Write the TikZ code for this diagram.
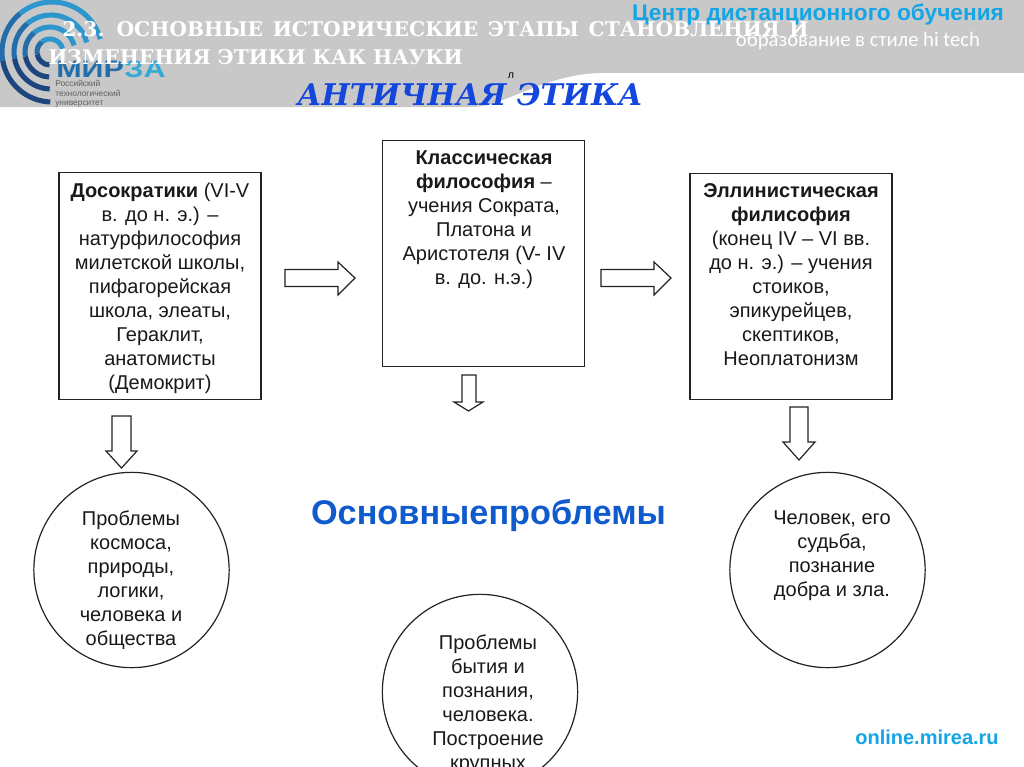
\documentclass[tikz,border=0pt]{standalone}
\usepackage{fontspec}
\setmainfont{Liberation Sans}
\newfontfamily\serifb{DejaVu Serif}
\newfontfamily\thinf{Carlito}
\definecolor{band}{RGB}{200,200,200}
\definecolor{logoa}{RGB}{45,150,205}
\definecolor{logom}{RGB}{35,110,170}
\definecolor{logob}{RGB}{28,70,125}
\definecolor{logoc}{RGB}{50,170,215}
\definecolor{logotxt}{RGB}{95,95,95}
\definecolor{headb}{RGB}{18,70,220}
\definecolor{subb}{RGB}{15,90,205}
\definecolor{cyanb}{RGB}{20,165,230}
\definecolor{linec}{RGB}{35,35,35}
\tikzset{
  x=0.75pt,y=-0.75pt,
  boxn/.style={draw=linec,line width=0.9pt,fill=white,inner sep=0pt,minimum width=151.5pt},
  circn/.style={draw=linec,line width=0.9pt,circle,inner sep=0pt,minimum size=146.5pt},
  bodyt/.style={font=\fontsize{15pt}{18pt}\selectfont,align=center,text=black!90,inner sep=0pt},
  arrowr/.style={draw=linec,line width=0.9pt,fill=white,line join=miter},
  titlet/.style={font=\serifb\bfseries\fontsize{15.2pt}{18pt}\selectfont,text=white,anchor=west,inner sep=0pt},
  logoarc/.style={line width=3.8pt,line cap=butt}
}
\newcommand{\ringp}[2]{%
  \draw[logoa,logoarc] (#1,52) ++(-15:#2) arc (-15:-130:#2);
  \draw[logom,logoarc] (#1,52) ++(-130:#2) arc (-130:-190:#2);
  \draw[logob,logoarc] (#1,52) ++(-190:#2) arc (-190:-268:#2);
}
\newcommand{\wsp}{ \hspace{1.9pt}}
\begin{document}
\begin{tikzpicture}
\useasboundingbox (0,0) rectangle (1024,767);
\fill[white] (0,0) rectangle (1024,767);
\fill[band] (0,0) -- (1024,0) -- (1024,73) -- (600,73) .. controls (560,74) and (530,90) .. (500,101) .. controls (490,105) and (480,107) .. (470,107) -- (0,107) -- cycle;
% logo
\begin{scope}
\clip (0,0) rectangle (120,107);
\ringp{52}{50}
\ringp{51}{37}
\ringp{50}{25}
\ringp{50}{13}
\end{scope}
\node[anchor=west,inner sep=0pt,text=logom,font=\bfseries\fontsize{18pt}{20pt}\selectfont] (mi) at (56,69) {\scalebox{1.27}[1]{МИР}};
\node[anchor=west,inner sep=0pt,text=logoc,font=\bfseries\fontsize{18pt}{20pt}\selectfont] (ea) at (mi.east) {\scalebox{1.27}[1]{ЗА}};
\node[anchor=north west,inner sep=0pt,text=logotxt,align=left,font=\fontsize{6.3pt}{7.3pt}\selectfont] (logot) at (55,80) {Российский\\технологический\\университет};
% header text
\node[titlet] (t1) at (62,29) {2.3.\wsp ОСНОВНЫЕ\wsp ИСТОРИЧЕСКИЕ\wsp ЭТАПЫ\wsp СТАНОВЛЕНИЯ\wsp И};
\node[titlet] (t2) at (48,57) {ИЗМЕНЕНИЯ ЭТИКИ КАК НАУКИ};
\node[anchor=center,inner sep=0pt,text=cyanb,font=\bfseries\fontsize{17pt}{18pt}\selectfont] (c1) at (818,15) {Центр дистанционного обучения};
\node[anchor=center,inner sep=0pt,text=white,font=\thinf\fontsize{15.5pt}{16pt}\selectfont] (c2) at (858,41) {образование в стиле hi tech};
\node[inner sep=0pt,font=\serifb\bfseries\itshape\fontsize{22.4pt}{24pt}\selectfont,text=headb] (h) at (470,95) {АНТИЧНАЯ ЭТИКА};
\node[inner sep=0pt,text=black,font=\fontsize{8pt}{9pt}\selectfont] (l) at (511,76) {л};
% boxes
\node[boxn,minimum height=170.5pt] (boxa) at (160,286) {};
\node[boxn,minimum height=170pt] (boxb) at (483.5,253.5) {};
\node[boxn,minimum height=170pt] (boxc) at (791,286.5) {};
\node[bodyt] (a) at (160,288) {\textbf{Досократики} (VI-V\\в. до н. э.) –\\натурфилософия\\милетской школы,\\пифагорейская\\школа, элеаты,\\Гераклит,\\анатомисты\\(Демокрит)};
\node[bodyt] (b) at (484,220) {\textbf{Классическая}\\\textbf{философия} –\\учения Сократа,\\Платона и\\Аристотеля (V- IV\\в. до. н.э.)};
\node[bodyt] (c) at (791,275) {\textbf{Эллинистическая}\\\textbf{филисофия}\\(конец IV – VI вв.\\до н. э.) – учения\\стоиков,\\эпикурейцев,\\скептиков,\\Неоплатонизм};
% horizontal arrows
\draw[arrowr] (285,269.5) -- (338,269.5) -- (338,262) -- (355,278) -- (338,295) -- (338,286.5) -- (285,286.5) -- cycle;
\draw[arrowr] (601,269.5) -- (654,269.5) -- (654,262) -- (671,278) -- (654,295) -- (654,286.5) -- (601,286.5) -- cycle;
% vertical arrows
\draw[arrowr] (112,416) -- (131,416) -- (131,451) -- (137,451) -- (121.5,468) -- (106,451) -- (112,451) -- cycle;
\draw[arrowr] (462,375) -- (476,375) -- (476,402) -- (483,402) -- (468.5,411) -- (454,402) -- (462,402) -- cycle;
\draw[arrowr] (790,407) -- (808,407) -- (808,442) -- (815,442) -- (799,460) -- (783,442) -- (790,442) -- cycle;
% centre label
\node[inner sep=0pt,text=subb,font=\bfseries\fontsize{25.7pt}{26pt}\selectfont] (m) at (488.5,515) {Основныепроблемы};
% circles
\begin{scope}
\clip (0,0) rectangle (1024,767);
\node[circn] (ca) at (131.5,570) {};
\node[circn] (cb) at (480,692) {};
\node[circn] (cc) at (827.5,570) {};
\node[bodyt,anchor=north] (p2) at (488,635) {Проблемы\\бытия и\\познания,\\человека.\\Построение\\крупных};
\end{scope}
\node[bodyt] (p1) at (131,580) {Проблемы\\космоса,\\природы,\\логики,\\человека и\\общества};
\node[bodyt] (p3) at (832,556) {Человек, его\\судьба,\\познание\\добра и зла.};
\node[inner sep=0pt,text=cyanb,font=\bfseries\fontsize{15pt}{15pt}\selectfont] (u) at (927,737) {online.mirea.ru};
\end{tikzpicture}
\end{document}
